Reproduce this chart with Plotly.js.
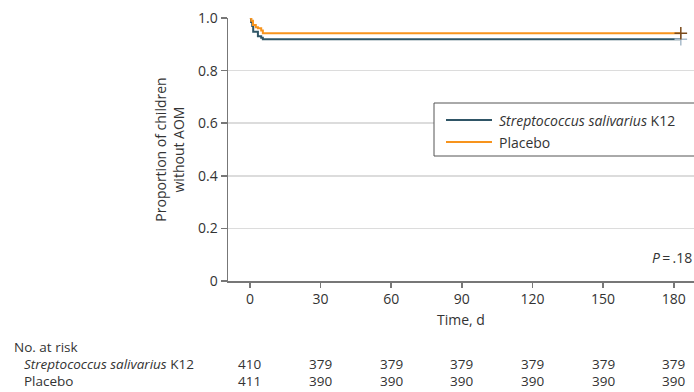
<!DOCTYPE html>
<html>
<head>
<meta charset="utf-8">
<script src="https://cdn.plot.ly/plotly-3.0.1.min.js"></script>
<style>html,body{margin:0;padding:0;background:#fff;}#chart{width:694px;height:392px;}</style>
</head>
<body>
<div id="chart"></div>
<script>
// Kaplan-Meier step data
const k12Days = [0, 0.5, 1, 1.4, 3.4, 4.8, 5.5, 183];
const k12Surv = [1.0, 0.985, 0.97, 0.948, 0.931, 0.925, 0.919, 0.919];
const placeboDays = [0, 0.6, 1.3, 2.5, 3.4, 4.8, 5.5, 183];
const placeboSurv = [1.0, 0.99, 0.973, 0.965, 0.961, 0.952, 0.942, 0.942];
const censorDay = [183];
const k12Censor = [0.919];
const placeboCensor = [0.942];

const tickDays = [0, 30, 60, 90, 120, 150, 180];
const yTicks = [0, 0.2, 0.4, 0.6, 0.8, 1.0];
const yTickText = ['0', '0.2', '0.4', '0.6', '0.8', '1.0'];
const riskK12 = [410, 379, 379, 379, 379, 379, 379];
const riskPlacebo = [411, 390, 390, 390, 390, 390, 390];

const k12Name = '<i>Streptococcus salivarius</i> K12';
const placeboName = 'Placebo';
const k12Color = '#2f5566';
const placeboColor = '#f7941d';
const FONT = 'Open Sans, sans-serif';
const TXT = '#333333';

const traces = [
  {x: k12Days, y: k12Surv, type: 'scatter', mode: 'lines', line: {shape: 'hv', color: k12Color, width: 2}, name: k12Name, showlegend: false},
  {x: placeboDays, y: placeboSurv, type: 'scatter', mode: 'lines', line: {shape: 'hv', color: placeboColor, width: 2}, name: placeboName, showlegend: false},
  {x: censorDay, y: k12Censor, type: 'scatter', mode: 'markers', showlegend: false, marker: {symbol: 'cross-thin-open', size: 9, color: '#a9bccb', line: {color: '#a9bccb', width: 1.5}}},
  {x: censorDay, y: placeboCensor, type: 'scatter', mode: 'markers', showlegend: false, marker: {symbol: 'cross-thin-open', size: 9, color: '#7a4a1a', line: {color: '#7a4a1a', width: 1.5}}}
];

// plot area geometry in paper coords
const plotTop = 18, plotBottom = 281, plotH = plotBottom - plotTop, plotLeft = 228, plotW = 694 - plotLeft;
const py = (px) => (plotBottom - px) / plotH;
const pxp = (px) => (px - plotLeft) / plotW;

const annotations = [
  {xref: 'paper', yref: 'paper', x: 1, y: py(257), xanchor: 'right', yanchor: 'middle', text: '<i>P</i>\u2009=\u2009.18', showarrow: false, font: {family: FONT, size: 14, color: TXT}},
  {xref: 'paper', yref: 'paper', x: pxp(12), y: py(347), xanchor: 'left', yanchor: 'middle', text: 'No. at risk', showarrow: false, font: {family: FONT, size: 13.5, color: TXT}},
  {xref: 'paper', yref: 'paper', x: pxp(22), y: py(364), xanchor: 'left', yanchor: 'middle', text: k12Name, showarrow: false, font: {family: FONT, size: 13.5, color: TXT}},
  {xref: 'paper', yref: 'paper', x: pxp(22), y: py(381), xanchor: 'left', yanchor: 'middle', text: placeboName, showarrow: false, font: {family: FONT, size: 13.5, color: TXT}},
  // legend labels
  {xref: 'paper', yref: 'paper', x: pxp(497), y: py(120), xanchor: 'left', yanchor: 'middle', text: k12Name, showarrow: false, font: {family: FONT, size: 14, color: TXT}},
  {xref: 'paper', yref: 'paper', x: pxp(497), y: py(142), xanchor: 'left', yanchor: 'middle', text: placeboName, showarrow: false, font: {family: FONT, size: 14, color: TXT}}
];
tickDays.forEach((d, i) => {
  annotations.push({xref: 'x', yref: 'paper', x: d, y: py(364), xanchor: 'center', yanchor: 'middle', text: String(riskK12[i]), showarrow: false, font: {family: FONT, size: 13.5, color: TXT}});
  annotations.push({xref: 'x', yref: 'paper', x: d, y: py(381), xanchor: 'center', yanchor: 'middle', text: String(riskPlacebo[i]), showarrow: false, font: {family: FONT, size: 13.5, color: TXT}});
});

const shapes = [
  {type: 'rect', xref: 'paper', yref: 'paper', x0: pxp(434), x1: pxp(705), y0: py(156), y1: py(103), line: {color: '#555', width: 1}, fillcolor: '#fff', layer: 'above'},
  {type: 'line', xref: 'paper', yref: 'paper', x0: pxp(446), x1: pxp(492), y0: py(120), y1: py(120), line: {color: k12Color, width: 2}, layer: 'above'},
  {type: 'line', xref: 'paper', yref: 'paper', x0: pxp(446), x1: pxp(492), y0: py(142), y1: py(142), line: {color: placeboColor, width: 2}, layer: 'above'}
];

const layout = {
  width: 694, height: 392,
  margin: {l: plotLeft, r: 0, t: plotTop, b: 392 - plotBottom, pad: 0},
  paper_bgcolor: '#fff', plot_bgcolor: '#fff',
  font: {family: FONT, size: 14, color: TXT},
  showlegend: false,
  xaxis: {
    range: [-9.3, 188.6], tickvals: tickDays, ticktext: tickDays.map(String),
    showline: true, linecolor: '#777', linewidth: 1.5, ticks: 'outside', ticklen: 5, tickcolor: '#777', tickwidth: 1.5,
    showgrid: false, zeroline: false, fixedrange: true,
    title: {text: 'Time, d', standoff: 8, font: {family: FONT, size: 14, color: TXT}},
    automargin: false
  },
  yaxis: {
    range: [0, 1.0], tickvals: yTicks, ticktext: yTickText,
    showline: true, linecolor: '#777', linewidth: 1.5, ticks: 'outside', ticklen: 6, tickcolor: '#777', tickwidth: 1.5,
    showgrid: true, gridcolor: '#dcdcdc', gridwidth: 1.5, zeroline: false, fixedrange: true,
    title: {text: 'Proportion of children<br>without AOM', standoff: 10, font: {family: FONT, size: 14, color: TXT}},
    automargin: false
  },
  shapes: shapes,
  annotations: annotations
};

Plotly.newPlot('chart', traces, layout, {displayModeBar: false, staticPlot: true});
</script>
</body>
</html>
